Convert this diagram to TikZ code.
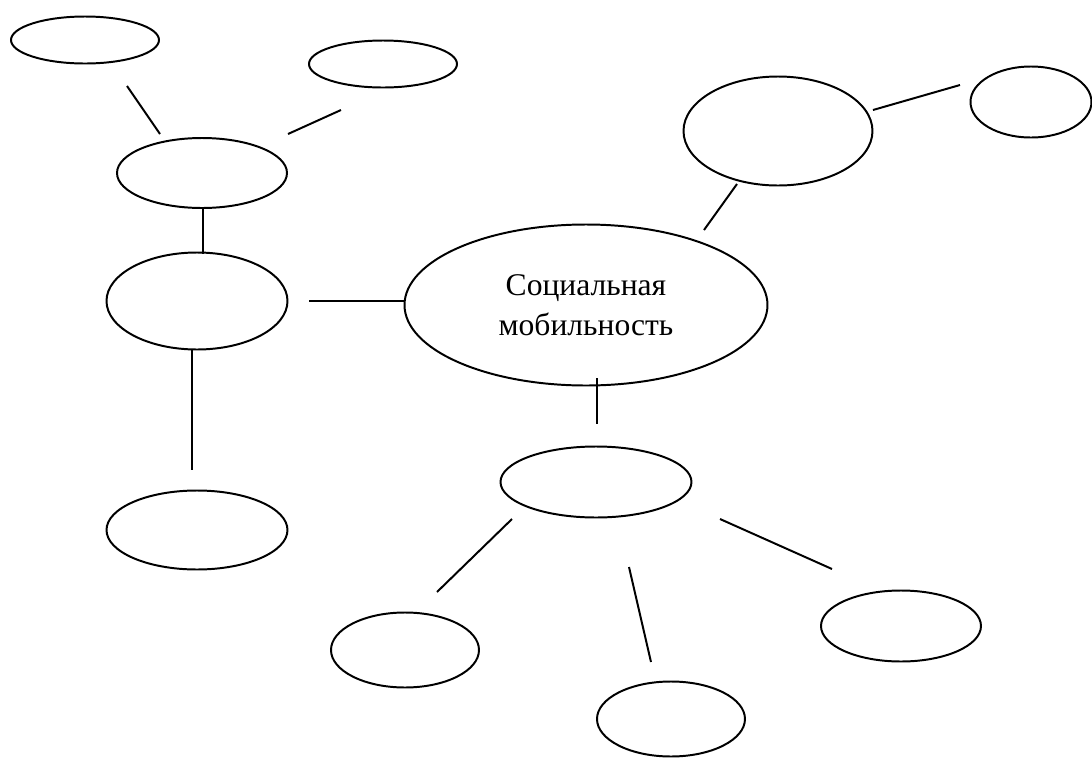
\documentclass[tikz,border=0pt]{standalone}
\usepackage{fontspec}
\setmainfont{Liberation Serif}
\usetikzlibrary{shapes.geometric}
\begin{document}
\begin{tikzpicture}[x=0.38pt,y=-0.38pt,
  bub/.style={draw,line width=0.75pt,ellipse,inner sep=0pt},
  con/.style={line width=0.75pt}]
\useasboundingbox[fill=white] (0,0) rectangle (1092,758);
\newcommand{\bubble}[5]{\node[bub,minimum width=#4*0.38pt,minimum height=#5*0.38pt] (#1) at (#2,#3) {};}
\bubble{e1}{85}{40}{148}{47}
\bubble{e2}{383}{64}{148}{47}
\bubble{e3}{202}{173}{170}{70}
\bubble{e4}{197}{301}{181}{97}
\bubble{e5}{197}{530}{181}{79}
\node[bub,minimum width=363*0.38pt,minimum height=161*0.38pt,align=center,font=\fontsize{12pt}{15pt}\selectfont] (c) at (586,305) {Социальная\\мобильность};
\bubble{e7}{778}{131}{189}{109}
\bubble{e8}{1031}{102}{121}{71}
\bubble{e9}{596}{482}{191}{71}
\bubble{e10}{405}{650}{148}{75}
\bubble{e11}{671}{719}{148}{75}
\bubble{e12}{901}{626}{160}{71}
% connector ends
\coordinate (a1) at (127,86);  \coordinate (b1) at (160,134);
\coordinate (a2) at (288,134); \coordinate (b2) at (341,110);
\coordinate (a3) at (203,208); \coordinate (b3) at (203,254);
\coordinate (a4) at (309,301); \coordinate (b4) at (404,301);
\coordinate (a5) at (192,350); \coordinate (b5) at (192,470);
\coordinate (a6) at (704,230); \coordinate (b6) at (737,184);
\coordinate (a7) at (873,110); \coordinate (b7) at (960,85);
\coordinate (a8) at (597,378); \coordinate (b8) at (597,424);
\coordinate (a9) at (512,519); \coordinate (b9) at (437,592);
\coordinate (a10) at (629,567); \coordinate (b10) at (651,662);
\coordinate (a11) at (720,519); \coordinate (b11) at (832,569);
\foreach \i in {1,...,11} {\draw[con] (a\i) -- (b\i);}
\end{tikzpicture}
\end{document}
